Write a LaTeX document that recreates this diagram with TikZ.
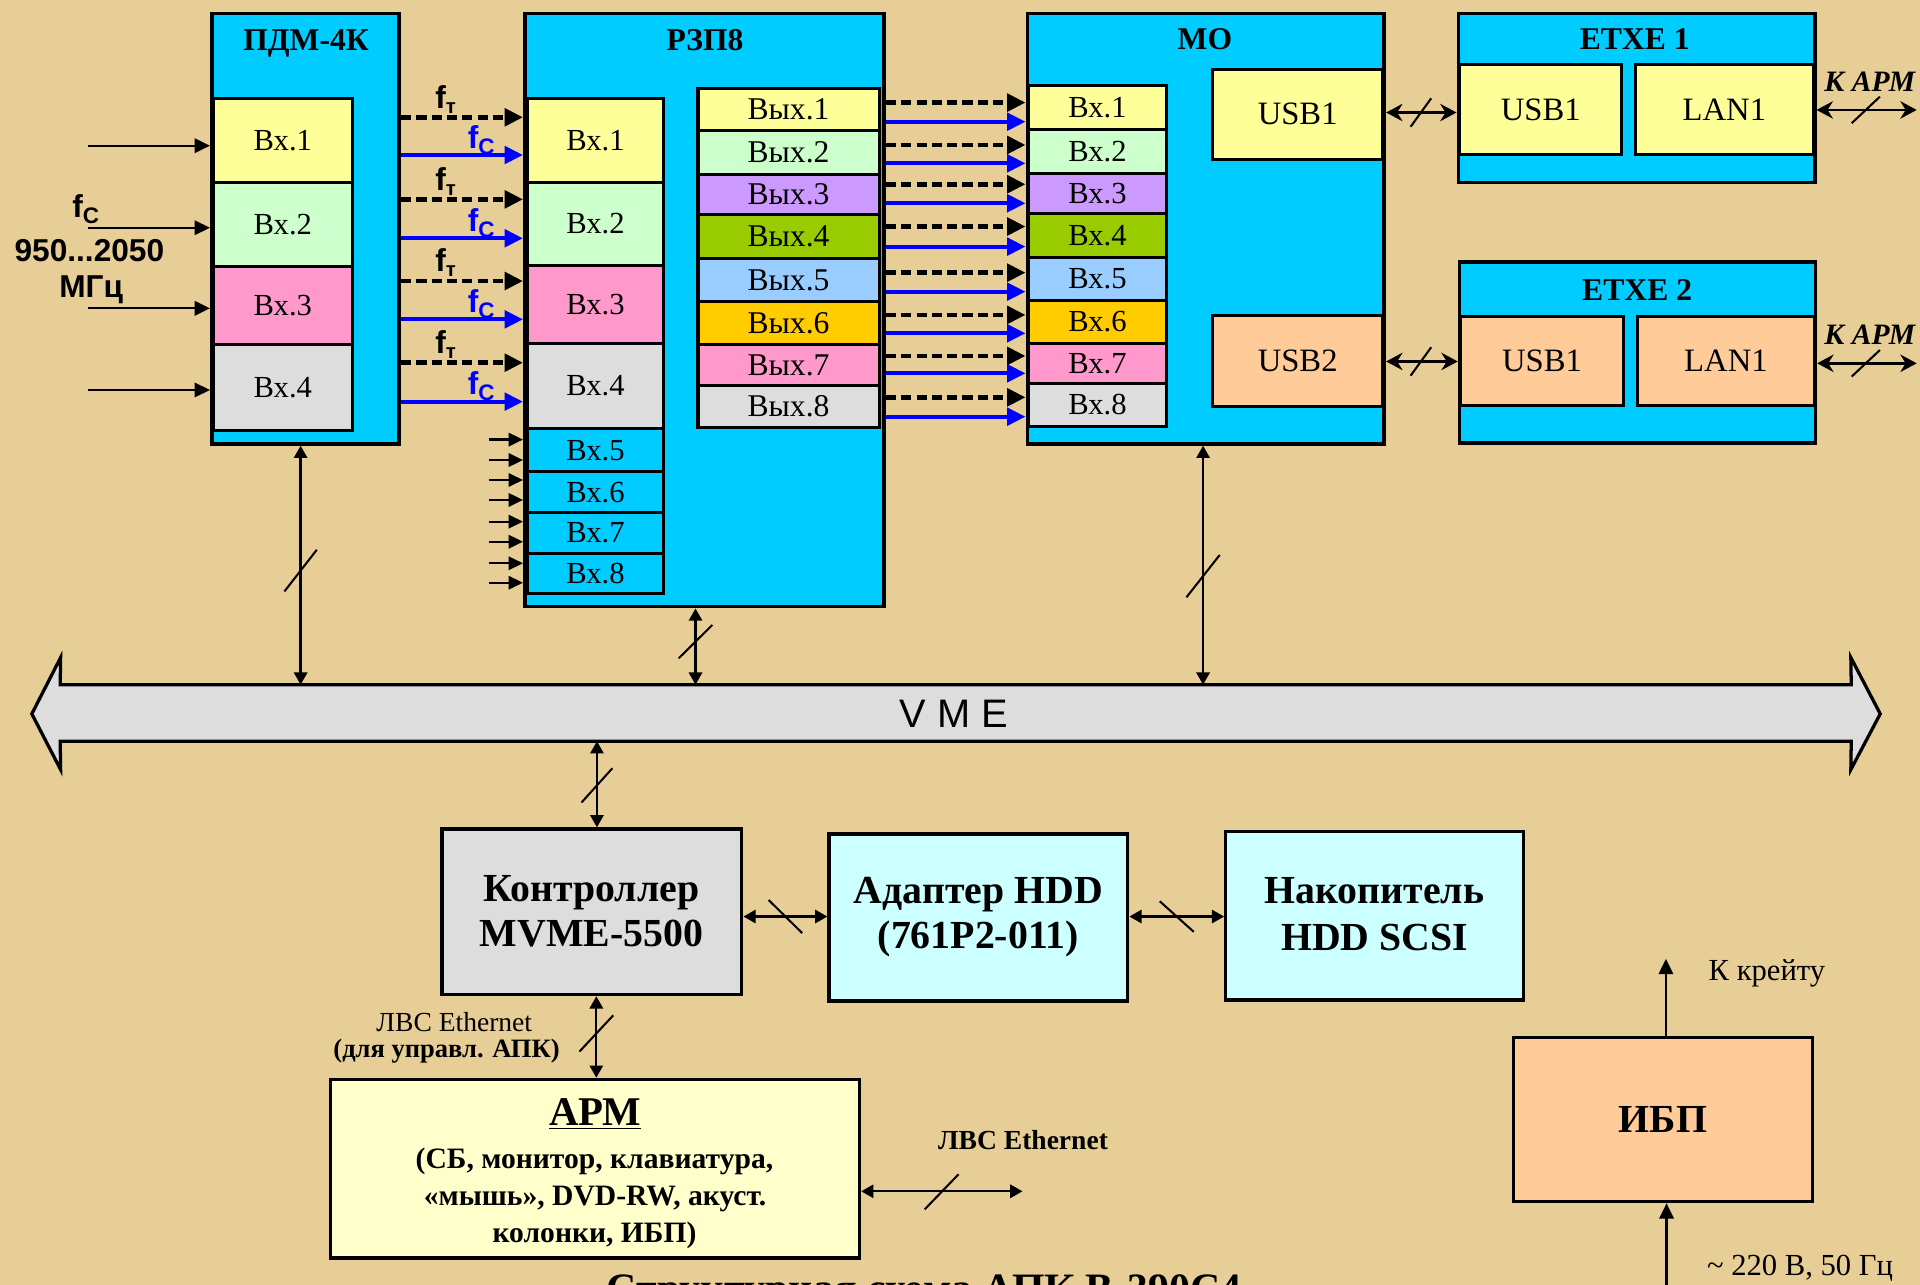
\documentclass[tikz,border=0pt]{standalone}
\usepackage{fontspec}
\setmainfont{Liberation Serif}
\setsansfont{Liberation Sans}
\usetikzlibrary{arrows.meta,fit}
\definecolor{bgc}{RGB}{231,205,150}
\definecolor{cyanb}{RGB}{0,204,255}
\definecolor{cyel}{RGB}{255,255,153}
\definecolor{cgrn}{RGB}{204,255,204}
\definecolor{cpnk}{RGB}{255,153,204}
\definecolor{cgry}{RGB}{221,221,221}
\definecolor{clav}{RGB}{204,153,255}
\definecolor{colv}{RGB}{153,204,0}
\definecolor{clbl}{RGB}{153,204,255}
\definecolor{corg}{RGB}{255,204,0}
\definecolor{cpch}{RGB}{255,204,153}
\definecolor{clcy}{RGB}{204,255,255}
\definecolor{cayl}{RGB}{255,255,204}
\definecolor{cblu}{RGB}{0,0,255}
\newcommand\fsz[1]{\fontsize{#1}{#1}\selectfont}
% box from corner to corner, with its text set as a centred node of its own
\newcommand\bx[7]{\node[#2, fit={(#3,#4) (#5,#6)}] (#1) {};
  \node[#2, draw=none, fill=none, inner sep=0pt] (#1-t) at (#1.center) {#7};}
\tikzset{
  ob/.style={draw, line width=1.8pt, fill=cyanb, inner sep=0pt},
  ib/.style={draw, line width=1.5pt, inner sep=0pt, font=\fsz{15}},
  vb/.style={ib, font=\fsz{15.5}},
  ttl/.style={font=\bfseries\fsz{15.5}, anchor=base, inner sep=0pt},
  tx/.style={anchor=base, inner sep=0pt},
  inarr/.style={line width=1.1pt, -{Triangle[length=7.5pt,width=7pt]}},
  inarrs/.style={line width=1.1pt, -{Triangle[length=7pt,width=6.5pt]}},
  dsh/.style={line width=2.2pt, dash pattern=on 5pt off 2.5pt, -{Triangle[length=9pt,width=8.5pt]}},
  blu/.style={draw=cblu, line width=2pt, -{Triangle[length=9pt,width=8.5pt]}},
  bus/.style={line width=1.1pt, {Triangle[length=6pt,width=6.5pt]}-{Triangle[length=6pt,width=6.5pt]}},
  bus2/.style={line width=1.3pt, {Stealth[length=8pt,width=8.5pt]}-{Stealth[length=8pt,width=8.5pt]}},
  sln/.style={line width=1pt},
  pics/slR/.style 2 args={code={\draw[sln] (-#1,#2) -- (#1,-#2);}},
  pics/slL/.style 2 args={code={\draw[sln] (-#1,-#2) -- (#1,#2);}},
  fsl/.style={tx, font=\sffamily\bfseries\fsz{15.5}},
}
\begin{document}
\begin{tikzpicture}[x=0.6pt,y=-0.6pt]
\useasboundingbox (0,0) rectangle (1568,1049);
\fill[bgc] (0,0) rectangle (1568,1049);
\clip (0,0) rectangle (1568,1049);

% ---------- PDM-4K ----------
\bx{pdm}{ob}{173}{11}{326}{362.5}{}
\node[ttl] (pdmT) at (250,41.3) {ПДМ-4К};
\bx{pi1}{ib,fill=cyel}{174.5}{80.3}{287.5}{149.2}{Вх.1}
\bx{pi2}{ib,fill=cgrn}{174.5}{149.2}{287.5}{217.8}{Вх.2}
\bx{pi3}{ib,fill=cpnk}{174.5}{217.8}{287.5}{281.7}{Вх.3}
\bx{pi4}{ib,fill=cgry}{174.5}{281.7}{287.5}{351.2}{Вх.4}

% ---------- RZP8 ----------
\bx{rzp}{ob}{428.6}{11}{722}{495.4}{}
\node[ttl] (rzpT) at (575.8,41.3) {РЗП8};
\bx{ri1}{ib,fill=cyel}{430.5}{80.3}{542}{148.8}{Вх.1}
\bx{ri2}{ib,fill=cgrn}{430.5}{148.8}{542}{217}{Вх.2}
\bx{ri3}{ib,fill=cpnk}{430.5}{217}{542}{280.5}{Вх.3}
\bx{ri4}{ib,fill=cgry}{430.5}{280.5}{542}{350}{Вх.4}
\bx{ri5}{ib,fill=cyanb}{430.5}{350}{542}{385.4}{Вх.5}
\bx{ri6}{ib,fill=cyanb}{430.5}{385.4}{542}{418.8}{Вх.6}
\bx{ri7}{ib,fill=cyanb}{430.5}{418.8}{542}{451.8}{Вх.7}
\bx{ri8}{ib,fill=cyanb}{430.5}{451.8}{542}{484.5}{Вх.8}
\bx{ro1}{vb,fill=cyel}{570}{72}{718}{106.5}{Вых.1}
\bx{ro2}{vb,fill=cgrn}{570}{106.5}{718}{142.2}{Вых.2}
\bx{ro3}{vb,fill=clav}{570}{142.2}{718}{175}{Вых.3}
\bx{ro4}{vb,fill=colv}{570}{175}{718}{211.2}{Вых.4}
\bx{ro5}{vb,fill=clbl}{570}{211.2}{718}{246.5}{Вых.5}
\bx{ro6}{vb,fill=corg}{570}{246.5}{718}{281.7}{Вых.6}
\bx{ro7}{vb,fill=cpnk}{570}{281.7}{718}{314.5}{Вых.7}
\bx{ro8}{vb,fill=cgry}{570}{314.5}{718}{349}{Вых.8}

% ---------- MO ----------
\bx{mo}{ob}{839}{11}{1130.5}{362.5}{}
\node[ttl] (moT) at (984,40.5) {МО};
\bx{mi1}{ib,fill=cyel}{839.5}{70.2}{953}{105.5}{Вх.1}
\bx{mi2}{ib,fill=cgrn}{839.5}{105.5}{953}{141.5}{Вх.2}
\bx{mi3}{ib,fill=clav}{839.5}{141.5}{953}{174.2}{Вх.3}
\bx{mi4}{ib,fill=colv}{839.5}{174.2}{953}{210}{Вх.4}
\bx{mi5}{ib,fill=clbl}{839.5}{210}{953}{245.4}{Вх.5}
\bx{mi6}{ib,fill=corg}{839.5}{245.4}{953}{280.3}{Вх.6}
\bx{mi7}{ib,fill=cpnk}{839.5}{280.3}{953}{313}{Вх.7}
\bx{mi8}{ib,fill=cgry}{839.5}{313}{953}{348.4}{Вх.8}
\bx{mu1}{ib,fill=cyel,font=\fsz{16}}{990.5}{56.5}{1129}{130}{USB1}
\bx{mu2}{ib,fill=cpch,font=\fsz{16}}{990.5}{258}{1129}{332}{USB2}

% ---------- ETXE ----------
\bx{e1}{ob}{1191}{11}{1482}{149}{}
\node[ttl] (e1T) at (1335,40.5) {ETXE 1};
\bx{e1u}{ib,fill=cyel,font=\fsz{16}}{1192}{53}{1324.5}{126}{USB1}
\bx{e1l}{ib,fill=cyel,font=\fsz{16}}{1335.5}{53}{1481}{126}{LAN1}
\bx{e2}{ob}{1192}{214}{1482.5}{362}{}
\node[ttl] (e2T) at (1337,245.6) {ETXE 2};
\bx{e2u}{ib,fill=cpch,font=\fsz{16}}{1193}{258.6}{1325.5}{330.8}{USB1}
\bx{e2l}{ib,fill=cpch,font=\fsz{16}}{1337.5}{258.6}{1481.5}{330.8}{LAN1}

% ---------- VME bus ----------
\node[fit={(49.5,559.5) (1511.5,605)}, inner sep=0pt] (vme) {};
\draw[line width=1.6pt, fill=cgry] (26,583) -- (49.5,537) -- (vme.north west) -- (vme.north east)
  -- (1511.5,537) -- (1535.5,583) -- (1511.5,628.5) -- (vme.south east) -- (vme.south west)
  -- (49.5,628.5) -- cycle;
\node[font=\sffamily\fsz{19.5}, inner sep=0pt] (vmeT) at (779,583) {V M E};

% ---------- lower blocks ----------
\bx{ctrl}{ib,line width=1.6pt,fill=cgry}{361}{677}{605.8}{812.3}{}
\node[tx,font=\bfseries\fsz{19.5}] (ctrlA) at (483,736) {Контроллер};
\node[tx,font=\bfseries\fsz{19.5}] (ctrlB) at (483,773) {MVME-5500};
\bx{adp}{ib,line width=1.6pt,fill=clcy}{677}{681}{921}{817.5}{}
\node[tx,font=\bfseries\fsz{19.5}] (adpA) at (799,737.7) {Адаптер HDD};
\node[tx,font=\bfseries\fsz{19.5}] (adpB) at (799,775) {(761P2-011)};
\bx{nak}{ib,line width=1.6pt,fill=clcy}{1001}{679}{1244}{816.7}{}
\node[tx,font=\bfseries\fsz{19.5}] (nakA) at (1122.5,737.7) {Накопитель};
\node[tx,font=\bfseries\fsz{19.5}] (nakB) at (1122.5,776) {HDD SCSI};
\bx{arm}{ib,line width=1.6pt,fill=cayl}{270}{881.5}{702}{1027.4}{}
\node[tx,font=\bfseries\fsz{20}] (armA) at (486,919.5) {\underline{АРМ}};
\node[tx,font=\bfseries\fsz{14.5}] (armB) at (485.5,954.5) {(СБ, монитор, клавиатура,};
\node[tx,font=\bfseries\fsz{14.5}] (armC) at (486,984.6) {«мышь», DVD-RW, акуст.};
\node[tx,font=\bfseries\fsz{14.5}] (armD) at (485.5,1014.8) {колонки, ИБП)};
\bx{ibp}{ib,line width=1.6pt,fill=cpch,font=\bfseries\fsz{19.5}}{1236}{847}{1480.3}{981.3}{ИБП}

% ---------- free ends ----------
\coordinate (ka1) at (1565.3,89.8);
\coordinate (ka2) at (1565.3,296.7);
\coordinate (lanR) at (835,972.9);
\coordinate (krt) at (1360.5,783);
\coordinate (acin) at (1361,1049);

% ---------- connectors ----------
\foreach \y in {119,186,251.8,318.5}
  \draw[inarr] (71.7,\y) -- (pdm.west |- 0,\y);
\node[fsl] (fcin) at (70,178) {f\raisebox{-0.35ex}{\fsz{11}C}};
\node[fsl] (band) at (73,213.7) {950...2050};
\node[fsl] (mhz) at (74.5,243) {МГц};

\foreach \d/\b [count=\i] in {95.8/126.6, 162.8/194.6, 229.5/260.8, 296.2/328} {
  \draw[dsh] (pdm.east |- 0,\d) -- (rzp.west |- 0,\d);
  \draw[blu] (pdm.east |- 0,\b) -- (rzp.west |- 0,\b);
  \node[fsl] (ft\i) at (364,\d-7.5) {f\raisebox{-0.3ex}{\fsz{10}т}};
  \node[fsl, text=cblu] (fc\i) at (393,\b-5.5) {f\raisebox{-0.35ex}{\fsz{11}C}};
}
\foreach \y in {359,375.7,392,408.3,426,442.4,460,475.9}
  \draw[inarrs] (399,\y) -- (rzp.west |- 0,\y);

\foreach \d/\b in {83.8/99.4, 118.4/133.4, 150.5/166, 185/201.4, 222.7/238.2, 257.2/272.2, 290.7/304.9, 324.5/340.3} {
  \draw[dsh] (rzp.east |- 0,\d) -- (mo.west |- 0,\d);
  \draw[blu] (rzp.east |- 0,\b) -- (mo.west |- 0,\b);
}

\draw[bus2] (mo.east |- 0,91.9) -- (e1.west |- 0,91.9);
\path (1160.4,91.9) pic{slR={8.4}{11.6}};
\draw[bus2] (mo.east |- 0,295.2) -- (e2.west |- 0,295.2);
\path (1160.4,295.2) pic{slR={8.4}{11.6}};

\draw[bus2] (e1.east |- 0,89.8) -- (ka1);
\path (1523.7,89.8) pic{slR={11.5}{10.8}};
\node[tx,font=\bfseries\itshape\fsz{14.5}] (ka1T) at (1527,74.9) {К АРМ};
\draw[bus2] (e2.east |- 0,296.7) -- (ka2);
\path (1523.7,296.7) pic{slR={11.5}{10.8}};
\node[tx,font=\bfseries\itshape\fsz{14.5}] (ka2T) at (1527,281.7) {К АРМ};

\draw[bus] (pdm.south -| 245.5,0) -- (vme.north -| 245.5,0);
\path (245.5,466) pic{slR={13.2}{17}};
\draw[bus] (rzp.south -| 568,0) -- (vme.north -| 568,0);
\path (568,524) pic{slR={13.7}{13.6}};
\draw[bus] (mo.south -| 982.5,0) -- (vme.north -| 982.5,0);
\path (982.5,470.5) pic{slR={13.6}{17.3}};
\draw[bus] (vme.south -| 487.5,0) -- (ctrl.north -| 487.5,0);
\path (487.5,641.4) pic{slR={12.6}{14}};

\draw[bus] (ctrl.east |- 0,748.5) -- (adp.west |- 0,748.5);
\path (641.4,748.5) pic{slL={13.7}{13.5}};
\draw[bus] (adp.east |- 0,748.5) -- (nak.west |- 0,748.5);
\path (961,748.5) pic{slL={13.9}{12.5}};

\draw[bus] (ctrl.south -| 487,0) -- (arm.north -| 487,0);
\path (487,844) pic{slR={13.8}{14.8}};
\node[tx,font=\fsz{13.5}] (eth1) at (371,842) {ЛВС Ethernet};
\node[tx,font=\bfseries\fsz{13}] (eth1b) at (364.7,864) {(для управл. АПК)};

\draw[bus] (arm.east |- 0,972.9) -- (lanR);
\path (769,973.3) pic{slR={13.8}{14.3}};
\node[tx,font=\bfseries\fsz{13.5}] (eth2) at (835.5,939) {ЛВС Ethernet};

\draw[inarr] (ibp.north -| 1360.5,0) -- (krt);
\node[tx,font=\fsz{15}] (krtT) at (1443,801) {К крейту};
\draw[inarr] (acin) -- (ibp.south -| 1361,0);
\node[tx,font=\fsz{15}] (acT) at (1470,1041.7) {\textasciitilde{} 220 В, 50 Гц};

\node[tx,font=\bfseries\fsz{20.5}] (title) at (754.5,1063.6) {Структурная схема АПК В-390С4};
\end{tikzpicture}
\end{document}
